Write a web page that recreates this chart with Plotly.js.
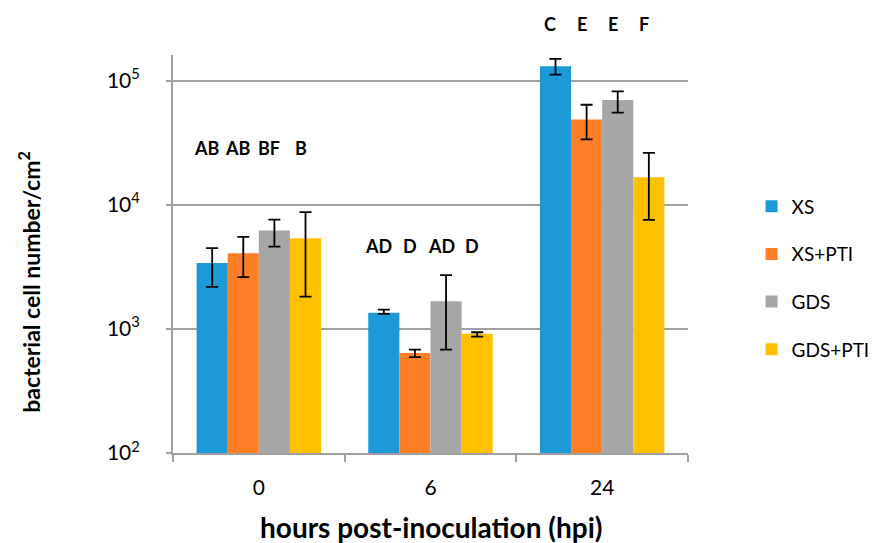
<!DOCTYPE html>
<html>
<head>
<meta charset="utf-8">
<script src="https://cdn.plot.ly/plotly-3.0.1.min.js"></script>
<style>html,body{margin:0;padding:0;background:#fff;}#chart{width:878px;height:543px;}</style>
</head>
<body>
<div id="chart"></div>
<script>
// ---- data ----
const categories = ['0', '6', '24'];
const seriesNames = ['XS', 'XS+PTI', 'GDS', 'GDS+PTI'];

const xsMean     = [3400, 1350, 131000];
const xsHigh     = [4480, 1430, 150000];
const xsLow      = [2180, 1320, 112000];

const xsPtiMean  = [4070, 640, 48700];
const xsPtiHigh  = [5520, 681, 64000];
const xsPtiLow   = [2610, 592, 33700];

const gdsMean    = [6200, 1670, 69800];
const gdsHigh    = [7600, 2710, 82000];
const gdsLow     = [4610, 681, 55200];

const gdsPtiMean = [5380, 912, 16700];
const gdsPtiHigh = [8730, 940, 26200];
const gdsPtiLow  = [1820, 866, 7570];

// significance letters per series, per time point
const xsLetters     = ['AB', 'AD', 'C'];
const xsPtiLetters  = ['AB', 'D', 'E'];
const gdsLetters    = ['BF', 'AD', 'E'];
const gdsPtiLetters = ['B', 'D', 'F'];

const yTickVals = [100, 1000, 10000, 100000];
const yTickText = ['10<sup>2</sup>', '10<sup>3</sup>', '10<sup>4</sup>', '10<sup>5</sup>'];

const yTitle = 'bacterial cell number/cm<sup>2</sup>';
const xTitle = 'hours post-inoculation (hpi)';

// ---- styling / layout ----
const colors = ['#1B9AD7', '#FF7F27', '#A6A6A6', '#FFC000'];
const FONT = 'Lato, "Open Sans", sans-serif';
const BARGAP = 0.275;
const Y_RANGE = [2, 5.207];
const MARGIN = {l: 173, r: 190, t: 55, b: 90};
const H = 543;
const pxPerDecade = (H - MARGIN.t - MARGIN.b) / (Y_RANGE[1] - Y_RANGE[0]);

const means = [xsMean, xsPtiMean, gdsMean, gdsPtiMean];
const highs = [xsHigh, xsPtiHigh, gdsHigh, gdsPtiHigh];
const lows  = [xsLow, xsPtiLow, gdsLow, gdsPtiLow];
const letters = [xsLetters, xsPtiLetters, gdsLetters, gdsPtiLetters];

const traces = means.map((m, i) => ({
  type: 'bar',
  name: seriesNames[i],
  x: categories,
  y: m,
  legendgroup: 'g' + i,
  marker: {color: colors[i], line: {width: 0}},
  error_y: {
    type: 'data', symmetric: false,
    array: m.map((v, j) => highs[i][j] - v),
    arrayminus: m.map((v, j) => v - lows[i][j]),
    color: '#000', thickness: 1.8, width: 6
  },
  hoverinfo: 'skip'
}));

// letter heights (log10 units) for each time point group
const letterLevel = [4.46, 3.67, 5.46];
const barW = (1 - BARGAP) / 4;
const annotations = [];
letters.forEach((arr, i) => {
  arr.forEach((txt, j) => {
    const lvl = letterLevel[j];
    const inside = lvl < Y_RANGE[1];
    const yv = inside ? lvl : Y_RANGE[1] - 0.001;
    annotations.push({
      xref: 'x', yref: 'y',
      x: j - (1 - BARGAP) / 2 + (i + 0.5) * barW,
      y: yv,
      yshift: inside ? 0 : (lvl - yv) * pxPerDecade,
      xshift: -5,
      text: '<b>' + txt + '</b>',
      showarrow: false,
      font: {family: FONT, size: 18, color: '#000'}
    });
  });
});
annotations.push({
  xref: 'paper', yref: 'paper', x: -0.2777, xanchor: 'center', y: 0.43, yanchor: 'middle',
  text: '<b>' + yTitle + '</b>', textangle: -90, showarrow: false,
  font: {family: FONT, size: 23, color: '#000'}
});
annotations.push({
  xref: 'paper', yref: 'paper', x: 0.5, xanchor: 'center', y: -0.185, yanchor: 'middle',
  text: '<b>' + xTitle + '</b>', showarrow: false,
  font: {family: FONT, size: 28, color: '#000'}
});

const layout = {
  width: 878, height: H,
  margin: MARGIN,
  paper_bgcolor: '#fff', plot_bgcolor: '#fff',
  barmode: 'group', bargap: BARGAP, bargroupgap: 0,
  showlegend: true,
  legend: {
    xref: 'container', yref: 'container',
    x: 0.856, xanchor: 'left', y: 0.655, yanchor: 'top',
    traceorder: 'grouped', tracegroupgap: 20,
    font: {family: FONT, size: 19, color: '#000'}
  },
  xaxis: {
    type: 'category',
    showline: true, linecolor: '#A0A0A0', linewidth: 2,
    ticks: 'outside', tickson: 'boundaries', ticklen: 7, tickcolor: '#A0A0A0', tickwidth: 2,
    ticklabelstandoff: 15,
    tickfont: {family: FONT, size: 21, color: '#000'},
    showgrid: false, zeroline: false
  },
  yaxis: {
    type: 'log', range: Y_RANGE,
    tickvals: yTickVals, ticktext: yTickText,
    showline: true, linecolor: '#A0A0A0', linewidth: 2,
    ticks: 'outside', ticklen: 5, tickcolor: '#A0A0A0', tickwidth: 2,
    ticklabelstandoff: 22,
    tickfont: {family: FONT, size: 21, color: '#000'},
    showgrid: true, gridcolor: '#A0A0A0', gridwidth: 2,
    zeroline: false
  },
  annotations: annotations
};

Plotly.newPlot('chart', traces, layout, {displayModeBar: false, staticPlot: true});
</script>
</body>
</html>
